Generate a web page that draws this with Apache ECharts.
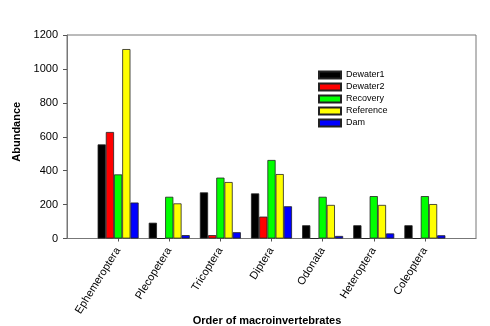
<!DOCTYPE html>
<html>
<head>
<meta charset="utf-8">
<script src="https://cdn.jsdelivr.net/npm/echarts@6/dist/echarts.min.js"></script>
<style>
  html, body { margin: 0; padding: 0; background: #fff; }
  #chart { width: 490px; height: 326px; }
</style>
</head>
<body>
<div id="chart"></div>
<script>
// Macroinvertebrate abundance by order and site condition
const orders = ['Ephemeroptera', 'Plecopetera', 'Tricoptera', 'Diptera', 'Odonata', 'Heteroptera', 'Coleoptera'];
const dewater1  = [555, 93, 272, 266, 78, 78, 78];
const dewater2  = [628, 0, 20, 129, 0, 0, 0];
const recovery  = [378, 246, 359, 463, 246, 250, 250];
const reference = [1117, 207, 333, 380, 198, 198, 203];
const dam       = [212, 20, 37, 190, 15, 30, 19];
const yTicks = { min: 0, max: 1200, step: 200 };

// Pad each side with an empty slot so the categories sit at 1..7 on a 0..8 axis
const pad = arr => [null, ...arr, null];
const cats = ['', ...orders, ''];

const font = 'Liberation Sans, Arial, sans-serif';
const seriesDefs = [
  ['Dewater1', dewater1, '#000000'],
  ['Dewater2', dewater2, '#ff0000'],
  ['Recovery', recovery, '#00ff00'],
  ['Reference', reference, '#ffff00'],
  ['Dam', dam, '#0000ff']
];

const chart = echarts.init(document.getElementById('chart'), null, { renderer: 'canvas' });
chart.setOption({
  backgroundColor: '#ffffff',
  animation: false,
  title: {
    text: 'Order of macroinvertebrates',
    left: 262, top: 310, textAlign: 'center',
    textStyle: { fontFamily: font, fontSize: 11, fontWeight: 'bold', color: '#000' }
  },
  grid: {
    left: 67, right: 14, top: 35, bottom: 87.5,
    containLabel: false, outerBoundsMode: 'none',
    show: true, borderColor: '#777', borderWidth: 1, backgroundColor: 'transparent'
  },
  legend: {
    orient: 'vertical',
    left: 313, top: 65,
    itemWidth: 22, itemHeight: 7, itemGap: 2,
    icon: 'rect',
    textStyle: { fontFamily: font, fontSize: 9, color: '#000', lineHeight: 10 },
    data: seriesDefs.map(s => s[0])
  },
  xAxis: {
    type: 'category',
    data: cats,
    boundaryGap: false,
    axisLine: { lineStyle: { color: '#777', width: 1 } },
    axisTick: {
      length: 3, lineStyle: { color: '#555' },
      interval: (i) => i > 0 && i < cats.length - 1
    },
    axisLabel: {
      rotate: 58, fontFamily: font, fontSize: 11, color: '#000', margin: 10,
      interval: 0, hideOverlap: false
    },
    splitLine: { show: false }
  },
  yAxis: {
    type: 'value',
    min: yTicks.min, max: yTicks.max, interval: yTicks.step,
    name: 'Abundance',
    nameLocation: 'middle', nameGap: 43,
    nameTextStyle: { fontFamily: font, fontSize: 11, fontWeight: 'bold', color: '#000', padding: [0, 0, 0, 10] },
    axisLine: { show: true, lineStyle: { color: '#777', width: 1 } },
    axisTick: { show: true, length: 4, lineStyle: { color: '#555' } },
    axisLabel: { fontFamily: font, fontSize: 11, color: '#000', margin: 9, formatter: v => String(v) },
    splitLine: { show: false }
  },
  series: seriesDefs.map(([name, vals, color]) => ({
    name,
    type: 'bar',
    data: pad(vals),
    barWidth: 8.2,
    barGap: '0%',
    itemStyle: { color, borderColor: '#222', borderWidth: 0.8 }
  }))
});
</script>
</body>
</html>
